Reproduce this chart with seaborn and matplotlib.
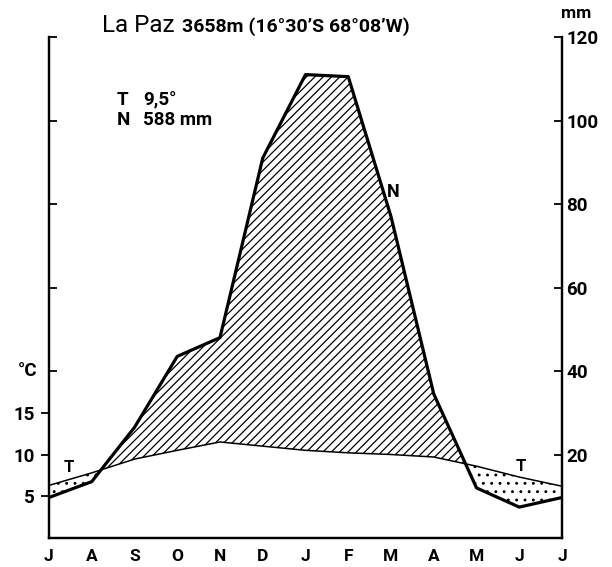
import pandas as pd
import matplotlib
matplotlib.use('Agg')
import matplotlib.pyplot as plt
import seaborn as sns

# Klimadiagramm La Paz (Juli bis Juli)
months = ["J", "A", "S", "O", "N", "D", "J", "F", "M", "A", "M", "J", "J"]
temp_c = [6.3, 7.8, 9.45, 10.5, 11.5, 11.0, 10.5, 10.2, 10.0, 9.7, 8.6, 7.3, 6.2]
precip_mm = [9.7, 13.5, 26.5, 43.5, 48.0, 91.0, 111.0, 110.5, 77.0, 34.5, 12.0, 7.4, 9.7]
temp_ticks = [5, 10, 15]
temp_minor = [20, 30, 40, 50, 60]
precip_ticks = [20, 40, 60, 80, 100, 120]

df = pd.DataFrame({"pos": range(len(months)), "T": temp_c, "N": precip_mm})

sns.set_style("white")
plt.rcParams['font.family'] = ['Roboto', 'DejaVu Sans']
plt.rcParams['hatch.linewidth'] = 0.9
for k in ("text.color", "axes.labelcolor", "xtick.color", "ytick.color"):
    plt.rcParams[k] = "black"

fig = plt.figure(figsize=(6.12, 5.67), dpi=100)
ax = fig.add_axes([49 / 612, 29 / 567, 513 / 612, 501 / 567])
ax2 = ax.twinx()

# Temperaturkurve (°C, linke Achse)
sns.lineplot(data=df, x="pos", y="T", ax=ax, color="black", linewidth=1.1)

# Flächen: humid (schraffiert) und arid (punktiert), 10 °C = 20 mm
x = df["pos"].to_numpy()
t_mm = df["T"].to_numpy() * 2
p = df["N"].to_numpy()
ax2.fill_between(x, t_mm, p, where=p >= t_mm, interpolate=True,
                 facecolor="none", edgecolor="black", hatch="////", linewidth=0)
ax2.fill_between(x, t_mm, p, where=p <= t_mm, interpolate=True,
                 facecolor="none", edgecolor="black", hatch="..", linewidth=0)

# Niederschlagskurve (mm, rechte Achse)
sns.lineplot(data=df, x="pos", y="N", ax=ax2, color="black", linewidth=2.3)

ax.set_xlim(0, 12)
ax.set_ylim(0, 60)
ax2.set_ylim(0, 120)
ax.set_xlabel("")
ax.set_ylabel("")
ax2.set_ylabel("")

ax.set_xticks(range(len(months)))
ax.set_xticklabels(months, fontsize=12.5, fontweight="bold")
ax.tick_params(axis="x", direction="in", length=6, width=1.3, pad=8)

ax.set_yticks(temp_ticks)
ax.set_yticklabels([str(v) for v in temp_ticks], fontsize=13.5, fontweight="bold")
ax.set_yticks(temp_minor, minor=True)
ax.tick_params(axis="y", which="major", direction="out", length=6, width=1.3, pad=4)
ax.tick_params(axis="y", which="minor", direction="in", length=6, width=1.3)

ax2.set_yticks(precip_ticks)
ax2.set_yticklabels([str(v) for v in precip_ticks], fontsize=13.5, fontweight="bold")
ax2.tick_params(axis="y", direction="in", length=6, width=1.3, pad=3)

for a in (ax, ax2):
    a.spines["top"].set_visible(False)
    for s in ("left", "right", "bottom"):
        a.spines[s].set_linewidth(1.6)
        a.spines[s].set_color("black")

# Beschriftungen
ax.text(-0.51, 20, "°C", ha="center", va="center", fontsize=13.5, fontweight="bold", clip_on=False)
fig.text(102 / 612, 1 - 32 / 567, "La Paz", fontsize=17.5, va="baseline")
fig.text(182 / 612, 1 - 32 / 567, "3658m (16°30’S 68°08’W)", fontsize=14, fontweight="bold", va="baseline")
fig.text(576 / 612, 1 - 18 / 567, "mm", ha="center", va="baseline", fontsize=12.5, fontweight="bold")

ax2.text(1.59, 103.7, "T", fontsize=13.5, fontweight="bold", va="baseline")
ax2.text(2.2, 103.7, "9,5°", fontsize=13.5, fontweight="bold", va="baseline")
ax2.text(1.59, 98.9, "N", fontsize=13.5, fontweight="bold", va="baseline")
ax2.text(2.2, 98.9, "588 mm", fontsize=13.5, fontweight="bold", va="baseline")

ax2.text(0.47, 16.8, "T", fontsize=12, fontweight="bold", ha="center", va="center")
ax2.text(11.04, 17.2, "T", fontsize=12, fontweight="bold", ha="center", va="center")
ax2.text(8.05, 82.9, "N", fontsize=13, fontweight="bold", ha="center", va="center")

fig.savefig("out.png", dpi=100)
